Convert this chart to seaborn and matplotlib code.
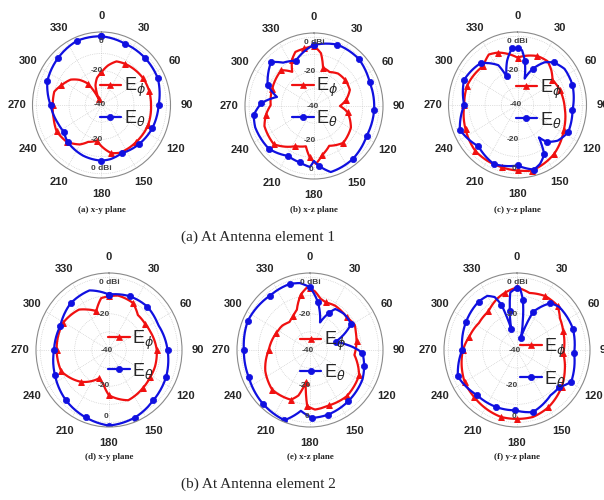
import numpy as np
import matplotlib
matplotlib.use("Agg")
import matplotlib.pyplot as plt
import seaborn as sns

sns.set_style("white")
plt.rcParams["font.family"] = ["Liberation Sans", "DejaVu Sans"]

# Radiation patterns in dBi, angles in degrees (clockwise from the top)
# (a) x-y plane, element 1
a_theta_ang = [0, 22, 45, 66, 90, 113, 135, 156, 170, 180, 201, 224, 236, 248, 270, 293, 316, 338]
a_theta_db = [0.0, -1.5, -1.7, -2.0, -4.8, -5.9, -7.6, -9.3, -8.0, -7.6, -8.4, -10.0, -12.0, -11.2, -8.6, -3.8, -1.7, 0.3]
a_phi_ang = [0, 10, 20, 31, 45, 59, 75, 90, 112, 136, 158, 168, 180, 188, 201, 210, 225, 241, 255, 270, 285, 295, 308, 317, 326, 334, 342, 350]
a_phi_db = [-21, -16.6, -13, -12, -11, -10, -9.5, -9.5, -9, -9.7, -10, -11.4, -16, -19, -17, -13.5, -9.7, -8.4, -9.5, -10, -9.9, -12.8, -16, -20, -25, -36, -28, -24]

# (b) x-z plane, element 1
b_theta_ang = [0, 22, 45, 68, 94, 118, 142, 165, 175, 180, 184, 195, 209, 228, 251, 262, 273, 283, 293, 314, 323, 337, 355]
b_theta_db = [-4.5, -1.5, -1.1, -3, -2.9, -3.2, -1, -0.2, -5, -8, -4.4, -6, -6.8, -2.7, -1.7, -2.5, -7.6, -16.6, -9, -3.2, -8.4, -11.4, -5.9]
b_phi_ang = [0, 8, 14, 26, 38, 52, 67, 80, 90, 100, 119, 140, 158, 170, 178, 185, 192, 206, 228, 249, 260, 271, 291, 316, 326, 333, 340, 350]
b_phi_db = [-5, -9, -17, -18, -16, -15.5, -16, -20, -24, -19, -14, -12, -15, -11, -6.3, -10, -16, -14, -6.7, -7.3, -9.9, -13.3, -12.4, -11, -16, -10, -6.5, -6]

# (c) y-z plane, element 1
c_theta_ang = [0, 5, 10, 16, 24, 34, 42, 54, 71, 95, 117, 130, 140, 145, 150, 158, 165, 180, 203, 225, 248, 270, 294, 317, 333, 338, 346, 354]
c_theta_db = [-6.7, -8, -14, -24, -17, -10, -6.7, -4.2, -4.2, -6, -5, -7.7, -12, -17, -7, -3, -1.1, -4.8, -2.7, -6, -1.7, -7.2, -4, -6.7, -14, -22, -13.5, -6.9]
c_phi_ang = [0, 23, 36, 46, 56, 72, 94, 117, 142, 167, 180, 195, 224, 246, 270, 290, 317, 329, 339]
c_phi_db = [-12.4, -9, -8.5, -11, -14, -12.4, -10.8, -8, -3.6, -0.8, -1.9, -2.5, -2.7, -5, -7.2, -7, -9, -5.7, -7.3]

# (d) x-y plane, element 2
d_theta_ang = [0, 22, 43, 64, 90, 114, 137, 158, 180, 200, 222, 246, 270, 295, 319, 341]
d_theta_db = [-9.4, -8, -7.3, -8.2, -5.9, -3.6, -2.1, 0.2, 1.7, -0.4, -2.6, -5.6, -8, -8.7, -5.9, -5.2]
d_phi_ang = [0, 10, 28, 41, 55, 67, 90, 109, 122, 137, 158, 180, 190, 200, 223, 247, 270, 299, 322, 330, 341, 351]
d_phi_db = [-10.4, -9.5, -10.5, -14.4, -14.5, -13.9, -12.2, -11.7, -11.7, -11.2, -10.1, -15, -21, -23.5, -16, -9.8, -9.5, -9.3, -11.7, -14.2, -17.3, -11]

# (e) x-z plane, element 2
e_theta_ang = [0, 10, 21, 28, 33, 45, 59, 67, 73, 81, 93, 106, 118, 142, 164, 178, 189, 201, 223, 247, 270, 294, 322, 342, 351]
e_theta_db = [-5.4, -13.3, -23.7, -17, -13, -11.9, -12, -18.9, -24.4, -19.4, -9.4, -7.2, -5.4, -4, -2.8, -2.5, -6, 1.5, 0.4, -1.3, -1.5, -0.4, -2, -1.7, -2.6]
e_phi_ang = [0, 5, 12, 19, 31, 50, 62, 70, 80, 96, 116, 140, 160, 175, 183, 188, 195, 202, 225, 246, 270, 296, 310, 322, 332, 341, 350, 357]
e_phi_db = [-6, -7.5, -11, -12.2, -11.5, -12, -10.5, -11.6, -12.5, -14, -8.2, -6.7, -7.5, -7, -9, -22, -14, -10.4, -8.9, -11.5, -16, -18.3, -19, -20.5, -19, -16.5, -9, -5.5]

# (f) y-z plane, element 2
f_theta_ang = [0, 3, 7, 12, 18, 24, 37, 46, 70, 93, 119, 130, 142, 165, 182, 201, 223, 247, 270, 298, 320, 330, 336, 340, 344, 349, 353]
f_theta_db = [-5.7, -6, -12, -24, -33, -17, -7.6, -5.8, -5.4, -6.7, -3.9, -8, -8.3, -4.5, -6.7, -6.3, -5.9, -2.6, -8.1, -6.5, -5.2, -5.5, -8, -13.3, -28, -18, -8]
f_phi_ang = [0, 13, 29, 44, 55, 69, 94, 112, 128, 150, 166, 180, 194, 207, 224, 240, 270, 285, 304, 322, 339, 347]
f_phi_db = [-5.5, -7.7, -6, -6, -9.5, -11.2, -13, -10, -7, -3.5, -1.9, -2, -1.9, -2.8, -4, -4.8, -8.5, -11.3, -13.3, -13, -9.2, -7.7]

angle_ticks = list(range(0, 360, 30))
captions = ["(a) x-y plane", "(b) x-z plane", "(c) y-z plane",
            "(d) x-y plane", "(e) x-z plane", "(f) y-z plane"]
group_titles = ["(a) At Antenna element 1", "(b) At Antenna element 2"]

RED = "#f01010"
BLUE = "#1010e0"
W, H = 604, 500

# panel layout in pixels: centre, radii (x, y), legend anchor, caption y
panels = [
    dict(c=(101.5, 105), R=(69, 73), th=(a_theta_ang, a_theta_db), ph=(a_phi_ang, a_phi_db), leg=(0.486, 0.52), cap_y=210, dbi_top=False),
    dict(c=(314, 106), R=(69, 73), th=(b_theta_ang, b_theta_db), ph=(b_phi_ang, b_phi_db), leg=(0.34, 0.527), cap_y=210, dbi_top=True),
    dict(c=(517.5, 105), R=(69, 73), th=(c_theta_ang, c_theta_db), ph=(c_phi_ang, c_phi_db), leg=(0.486, 0.51), cap_y=210, dbi_top=True),
    dict(c=(109, 350), R=(73, 77), th=(d_theta_ang, d_theta_db), ph=(d_phi_ang, d_phi_db), leg=(0.493, 0.471), cap_y=457, dbi_top=True),
    dict(c=(310, 350), R=(73, 77), th=(e_theta_ang, e_theta_db), ph=(e_phi_ang, e_phi_db), leg=(0.43, 0.461), cap_y=457, dbi_top=True),
    dict(c=(517, 350), R=(73, 77), th=(f_theta_ang, f_theta_db), ph=(f_phi_ang, f_phi_db), leg=(0.52, 0.419), cap_y=457, dbi_top=True),
]

fig = plt.figure(figsize=(W / 100, H / 100), dpi=100)


def closed(ang, db):
    ang = list(ang) + [ang[0] + 360]
    db = list(db) + [db[0]]
    return np.deg2rad(ang), np.array(db, dtype=float)


for p, cap in zip(panels, captions):
    cx, cy = p["c"]
    rx, ry = p["R"]
    ax = fig.add_axes([(cx - rx) / W, 1 - (cy + ry) / H, 2 * rx / W, 2 * ry / H], projection="polar")
    ax.set_aspect("auto")
    ax.set_theta_zero_location("N")
    ax.set_theta_direction(-1)
    ax.set_ylim(-40, 2.5)

    t, r = closed(*p["ph"])
    sns.lineplot(x=t, y=r, ax=ax, sort=False, estimator=None, color=RED, lw=1.6,
                 marker="^", markersize=4.5, markeredgecolor=RED, markeredgewidth=0.5,
                 markevery=0.12, legend=False)
    t, r = closed(*p["th"])
    sns.lineplot(x=t, y=r, ax=ax, sort=False, estimator=None, color=BLUE, lw=1.6,
                 marker="o", markersize=4.5, markeredgecolor=BLUE, markeredgewidth=0.5,
                 markevery=0.12, legend=False)
    # draw each segment as a polar arc/spiral rather than a straight chord
    for ln in ax.lines:
        ln.get_path()._interpolation_steps = 24
    ax.set_xlabel("")
    ax.set_ylabel("")

    ax.set_xticks(np.deg2rad(angle_ticks))
    ax.set_xticklabels([str(a) for a in angle_ticks], fontsize=8, fontweight="bold")
    ax.tick_params(axis="x", pad=1)
    ax.set_yticks([-30, -20, -10, 0])
    ax.set_yticklabels([])
    ax.grid(True, color="#c4c4c4", lw=0.5, ls=":")
    ax.spines["polar"].set_color("#8a8a8a")
    ax.spines["polar"].set_linewidth(0.8)

    lab_kw = dict(fontsize=6, fontweight="bold", color="#404040", ha="center", va="center")
    ax.text(np.deg2rad(352), -20, "-20", **lab_kw)
    ax.text(np.deg2rad(188), -20, "-20", **lab_kw)
    ax.text(np.deg2rad(270), -39, "-40", **lab_kw)
    if p["dbi_top"]:
        ax.text(0, -3, "0 dBi", **lab_kw)
        ax.text(np.deg2rad(183), -3, "0", **lab_kw)
    else:
        ax.text(0, -3, "0", **lab_kw)
        ax.text(np.pi, -3, "0 dBi", **lab_kw)

    h_phi, h_theta = ax.lines[0], ax.lines[1]
    ax.legend([h_phi, h_theta], [r"E$_\phi$", r"E$_\theta$"], loc="center left",
              bbox_to_anchor=p["leg"], frameon=False, fontsize=13, handlelength=1.2,
              handletextpad=0.15, labelspacing=0.5, borderpad=0, borderaxespad=0,
              numpoints=1)

    fig.text(cx / W, 1 - p["cap_y"] / H, cap, ha="center", va="center", fontsize=6.5,
             family="Liberation Serif", fontweight="bold")

fig.text(258 / W, 1 - 237 / H, group_titles[0], ha="center", va="center", fontsize=11,
         family="Liberation Serif")
fig.text(258 / W, 1 - 484 / H, group_titles[1], ha="center", va="center", fontsize=11,
         family="Liberation Serif")

fig.savefig("out.png", dpi=100)
